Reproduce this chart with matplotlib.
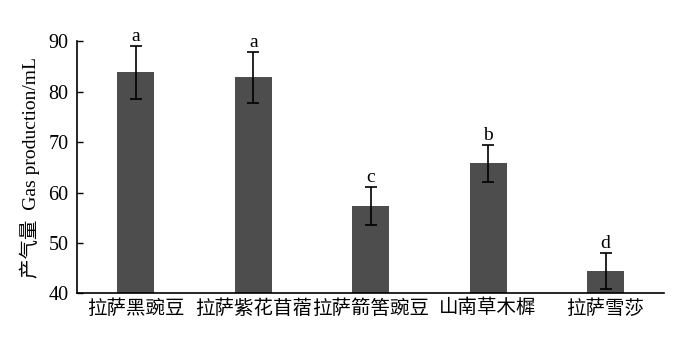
import matplotlib
matplotlib.use("Agg")
import matplotlib.pyplot as plt

plt.rcParams['font.family'] = ['Liberation Serif', 'Noto Sans CJK SC']

species = ["拉萨黑豌豆", "拉萨紫花苜蓿", "拉萨箭筈豌豆", "山南草木樨", "拉萨雪莎"]
gas = [83.8, 82.8, 57.3, 65.8, 44.4]
err = [5.3, 5.1, 3.7, 3.7, 3.6]
letters = ["a", "a", "c", "b", "d"]

fig = plt.figure(figsize=(7.0, 3.46), dpi=100)
ax = fig.add_axes([0.11, 0.152, 0.839, 0.729])
x = range(len(species))
ax.bar(x, [g - 40 for g in gas], bottom=40, width=0.315, color="#4d4d4d",
       yerr=err, error_kw=dict(ecolor="black", elinewidth=1.2, capsize=4, capthick=1.2))
for i, (g, e, s) in enumerate(zip(gas, err, letters)):
    ax.text(i, g + e + 0.2, s, ha="center", va="bottom", fontsize=14)

ax.set_xlim(-0.5, 4.5)
ax.set_ylim(40, 90)
ax.set_yticks([40, 50, 60, 70, 80, 90])
ax.set_xticks(list(x))
ax.set_xticklabels(species, fontsize=14)
ax.tick_params(axis="x", length=0, pad=4)
ax.tick_params(axis="y", labelsize=14.5, direction="in", length=4, width=1, pad=6)
for sp in ["top", "right"]:
    ax.spines[sp].set_visible(False)
for sp in ["left", "bottom"]:
    ax.spines[sp].set_linewidth(1.2)
ax.set_ylabel("产气量  Gas production/mL", fontsize=14, labelpad=6)

fig.savefig("out.png", dpi=100)
